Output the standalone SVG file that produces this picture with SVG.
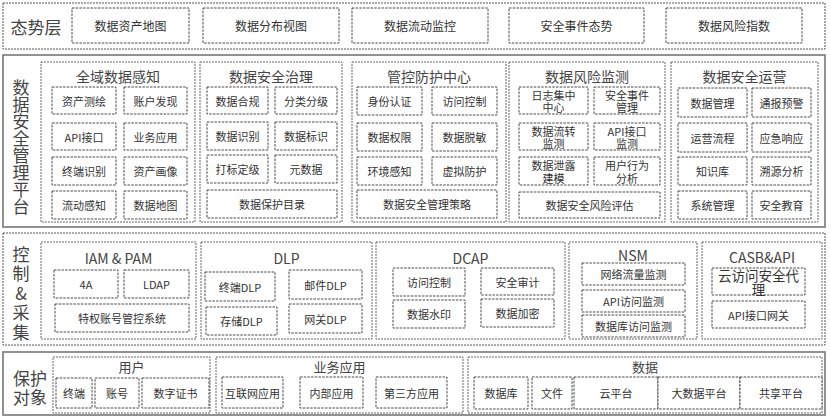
<svg xmlns="http://www.w3.org/2000/svg" width="831" height="420" viewBox="0 0 831 420">
<style>
text{font-family:"Microsoft YaHei","Noto Sans CJK SC","Noto Sans",sans-serif;text-anchor:middle;dominant-baseline:central;fill:#333}
.layd{fill:#fff;stroke:#555;stroke-width:1;stroke-dasharray:2 1}
.lays{fill:#fff;stroke:#777;stroke-width:1.6}
.pan{fill:none;stroke:#555;stroke-width:0.9;stroke-dasharray:2 1}
.box{fill:#fff;stroke:#333;stroke-width:0.9;stroke-dasharray:2.5 1.2}
.lt{font-size:17px;fill:#444}
.vt{font-size:17px;fill:#444;writing-mode:vertical-rl;text-orientation:upright;text-anchor:start}
.pt{font-size:14px;fill:#444}
.bt{font-size:11px}
.t1{font-size:12px}
</style>
<rect width="831" height="420" fill="#fff"/>

<g id="layer-situation">
<rect class="layd" x="3" y="3" width="822" height="46"/>
<text class="lt" x="36" y="26">态势层</text>
<g id="s1"><rect class="box" x="72" y="8" width="117" height="35"/><text class="t1" x="130.5" y="25.5">数据资产地图</text></g>
<g id="s2"><rect class="box" x="203" y="8" width="136" height="35"/><text class="t1" x="271" y="25.5">数据分布视图</text></g>
<g id="s3"><rect class="box" x="352" y="8" width="136" height="35"/><text class="t1" x="420" y="25.5">数据流动监控</text></g>
<g id="s4"><rect class="box" x="509" y="8" width="135" height="35"/><text class="t1" x="576.5" y="25.5">安全事件态势</text></g>
<g id="s5"><rect class="box" x="666" y="8" width="136" height="35"/><text class="t1" x="734" y="25.5">数据风险指数</text></g>
</g>

<g id="layer-platform">
<rect class="lays" x="3" y="55" width="822" height="172"/>
<text class="vt" x="21" y="79">数据安全管理平台</text>

<g id="p-perception">
<rect class="pan" x="41" y="62" width="154" height="160"/>
<text class="pt" x="118" y="76">全域数据感知</text>
<rect class="box" x="52" y="87" width="64" height="27"/><text class="bt" x="84" y="100.5">资产测绘</text>
<rect class="box" x="124" y="87" width="63" height="27"/><text class="bt" x="155.5" y="100.5">账户发现</text>
<rect class="box" x="52" y="123" width="64" height="27"/><text class="bt" x="84" y="136.5">API接口</text>
<rect class="box" x="124" y="123" width="63" height="27"/><text class="bt" x="155.5" y="136.5">业务应用</text>
<rect class="box" x="52" y="157" width="64" height="28"/><text class="bt" x="84" y="171">终端识别</text>
<rect class="box" x="124" y="157" width="63" height="28"/><text class="bt" x="155.5" y="171">资产画像</text>
<rect class="box" x="52" y="191" width="64" height="28"/><text class="bt" x="84" y="205">流动感知</text>
<rect class="box" x="124" y="191" width="63" height="28"/><text class="bt" x="155.5" y="205">数据地图</text>
</g>

<g id="p-governance">
<rect class="pan" x="200" y="62" width="142" height="160"/>
<text class="pt" x="271" y="76">数据安全治理</text>
<rect class="box" x="207" y="87" width="61" height="27"/><text class="bt" x="237.5" y="100.5">数据合规</text>
<rect class="box" x="275" y="87" width="62" height="27"/><text class="bt" x="306" y="100.5">分类分级</text>
<rect class="box" x="207" y="122" width="61" height="28"/><text class="bt" x="237.5" y="136">数据识别</text>
<rect class="box" x="275" y="122" width="62" height="28"/><text class="bt" x="306" y="136">数据标识</text>
<rect class="box" x="207" y="155" width="61" height="28"/><text class="bt" x="237.5" y="169">打标定级</text>
<rect class="box" x="275" y="155" width="62" height="28"/><text class="bt" x="306" y="169">元数据</text>
<rect class="box" x="207" y="190" width="130" height="28"/><text class="bt" x="272" y="204">数据保护目录</text>
</g>

<g id="p-control">
<rect class="pan" x="352" y="62" width="154" height="160"/>
<text class="pt" x="429" y="76">管控防护中心</text>
<rect class="box" x="357" y="87" width="65" height="28"/><text class="bt" x="389.5" y="101">身份认证</text>
<rect class="box" x="432" y="87" width="65" height="28"/><text class="bt" x="464.5" y="101">访问控制</text>
<rect class="box" x="357" y="123" width="65" height="28"/><text class="bt" x="389.5" y="137">数据权限</text>
<rect class="box" x="432" y="123" width="65" height="28"/><text class="bt" x="464.5" y="137">数据脱敏</text>
<rect class="box" x="357" y="157" width="65" height="28"/><text class="bt" x="389.5" y="171">环境感知</text>
<rect class="box" x="432" y="157" width="65" height="28"/><text class="bt" x="464.5" y="171">虚拟防护</text>
<rect class="box" x="357" y="190" width="140" height="28"/><text class="bt" x="427" y="204">数据安全管理策略</text>
</g>

<g id="p-risk">
<rect class="pan" x="509" y="62" width="156" height="160"/>
<text class="pt" x="587" y="76">数据风险监测</text>
<rect class="box" x="519" y="87" width="69" height="27"/><text class="bt" x="553.5" y="94.5">日志集中<tspan x="553.5" dy="12.5">中心</tspan></text>
<rect class="box" x="594" y="87" width="66" height="27"/><text class="bt" x="627" y="94.5">安全事件<tspan x="627" dy="12.5">管理</tspan></text>
<rect class="box" x="519" y="123" width="69" height="27"/><text class="bt" x="553.5" y="130.5">数据流转<tspan x="553.5" dy="12.5">监测</tspan></text>
<rect class="box" x="594" y="123" width="66" height="27"/><text class="bt" x="627" y="130.5">API接口<tspan x="627" dy="12.5">监测</tspan></text>
<rect class="box" x="519" y="157" width="69" height="28"/><text class="bt" x="553.5" y="164.5">数据泄露<tspan x="553.5" dy="13">建模</tspan></text>
<rect class="box" x="594" y="157" width="66" height="28"/><text class="bt" x="627" y="164.5">用户行为<tspan x="627" dy="13">分析</tspan></text>
<rect class="box" x="519" y="192" width="141" height="26"/><text class="bt" x="589.5" y="205">数据安全风险评估</text>
</g>

<g id="p-operation">
<rect class="pan" x="671" y="62" width="147" height="160"/>
<text class="pt" x="744.5" y="76">数据安全运营</text>
<rect class="box" x="678" y="88" width="69" height="29"/><text class="bt" x="712.5" y="102.5">数据管理</text>
<rect class="box" x="752" y="88" width="59" height="29"/><text class="bt" x="781.5" y="102.5">通报预警</text>
<rect class="box" x="678" y="123" width="69" height="29"/><text class="bt" x="712.5" y="137.5">运营流程</text>
<rect class="box" x="752" y="123" width="59" height="29"/><text class="bt" x="781.5" y="137.5">应急响应</text>
<rect class="box" x="678" y="157" width="69" height="28"/><text class="bt" x="712.5" y="171">知识库</text>
<rect class="box" x="752" y="157" width="59" height="28"/><text class="bt" x="781.5" y="171">溯源分析</text>
<rect class="box" x="678" y="191" width="69" height="28"/><text class="bt" x="712.5" y="205">系统管理</text>
<rect class="box" x="752" y="191" width="59" height="28"/><text class="bt" x="781.5" y="205">安全教育</text>
</g>
</g>

<g id="layer-collect">
<rect class="layd" x="3" y="233" width="822" height="112"/>
<text class="vt" x="21" y="246" style="letter-spacing:2.5px">控制&amp;采集</text>

<g id="p-iam">
<rect class="pan" x="41" y="242" width="155" height="97"/>
<text class="pt" x="118.5" y="258">IAM &amp; PAM</text>
<rect class="box" x="54" y="270" width="64" height="28"/><text class="bt" x="86" y="284">4A</text>
<rect class="box" x="124" y="270" width="65" height="28"/><text class="bt" x="156.5" y="284">LDAP</text>
<rect class="box" x="55" y="304" width="134" height="28"/><text class="bt" x="122" y="318">特权账号管控系统</text>
</g>

<g id="p-dlp">
<rect class="pan" x="201" y="242" width="171" height="97"/>
<text class="pt" x="286.5" y="258">DLP</text>
<rect class="box" x="205" y="272" width="70" height="29"/><text class="bt" x="240" y="286.5">终端DLP</text>
<rect class="box" x="289" y="270" width="73" height="29"/><text class="bt" x="325.5" y="284.5">邮件DLP</text>
<rect class="box" x="206" y="307" width="71" height="28"/><text class="bt" x="241.5" y="321">存储DLP</text>
<rect class="box" x="289" y="304" width="73" height="29"/><text class="bt" x="325.5" y="318.5">网关DLP</text>
</g>

<g id="p-dcap">
<rect class="pan" x="376" y="242" width="189" height="97"/>
<text class="pt" x="470.5" y="258">DCAP</text>
<rect class="box" x="393" y="268" width="72" height="28"/><text class="bt" x="429" y="282">访问控制</text>
<rect class="box" x="481" y="268" width="73" height="27"/><text class="bt" x="517.5" y="281.5">安全审计</text>
<rect class="box" x="393" y="300" width="72" height="28"/><text class="bt" x="429" y="314">数据水印</text>
<rect class="box" x="481" y="299" width="73" height="28"/><text class="bt" x="517.5" y="313">数据加密</text>
</g>

<g id="p-nsm">
<rect class="pan" x="569" y="242" width="128" height="97"/>
<text class="pt" x="633" y="255">NSM</text>
<rect class="box" x="582" y="263" width="103" height="22"/><text class="bt" x="633.5" y="274">网络流量监测</text>
<rect class="box" x="582" y="290" width="103" height="22"/><text class="bt" x="633.5" y="301">API访问监测</text>
<rect class="box" x="582" y="315" width="103" height="22"/><text class="bt" x="633.5" y="326">数据库访问监测</text>
</g>

<g id="p-casb">
<rect class="pan" x="702" y="242" width="120" height="97"/>
<text class="pt" x="762" y="257">CASB&amp;API</text>
<rect class="box" x="712" y="268" width="93" height="27"/><text x="758.5" y="275" style="font-size:13.5px">云访问安全代<tspan x="758.5" dy="14">理</tspan></text>
<rect class="box" x="712" y="301" width="93" height="27"/><text class="bt" x="758.5" y="314.5">API接口网关</text>
</g>
</g>

<g id="layer-objects">
<rect class="lays" x="3" y="352" width="822" height="63"/>
<text class="lt" x="30" y="377">保护<tspan x="30" dy="19">对象</tspan></text>

<g id="p-user">
<rect class="pan" x="53" y="357" width="157" height="56"/>
<text class="pt" x="131.5" y="366" style="font-size:13px">用户</text>
<rect class="box" x="56" y="378" width="36" height="30"/><text class="bt" x="74" y="393">终端</text>
<rect class="box" x="95" y="378" width="44" height="30"/><text class="bt" x="117" y="393">账号</text>
<rect class="box" x="142" y="378" width="67" height="30"/><text class="bt" x="175.5" y="393">数字证书</text>
</g>

<g id="p-app">
<rect class="pan" x="216" y="357" width="247" height="56"/>
<text class="pt" x="339.5" y="366" style="font-size:13px">业务应用</text>
<rect class="box" x="222" y="377" width="61" height="31"/><text class="bt" x="252.5" y="392.5">互联网应用</text>
<rect class="box" x="300" y="377" width="63" height="31"/><text class="bt" x="331.5" y="392.5">内部应用</text>
<rect class="box" x="376" y="377" width="71" height="31"/><text class="bt" x="411.5" y="392.5">第三方应用</text>
</g>

<g id="p-data">
<rect class="pan" x="468" y="357" width="354" height="56"/>
<text class="pt" x="645" y="366" style="font-size:13px">数据</text>
<rect class="box" x="474" y="377" width="54" height="32"/><text class="bt" x="501" y="393">数据库</text>
<rect class="box" x="532" y="377" width="40" height="32"/><text class="bt" x="552" y="393">文件</text>
<rect class="box" x="574" y="377" width="84" height="32"/><text class="bt" x="616" y="393">云平台</text>
<rect class="box" x="658" y="377" width="82" height="32"/><text class="bt" x="699" y="393">大数据平台</text>
<rect class="box" x="740" y="377" width="82" height="32"/><text class="bt" x="781" y="393">共享平台</text>
</g>
</g>

<g id="connectors"></g>
</svg>
